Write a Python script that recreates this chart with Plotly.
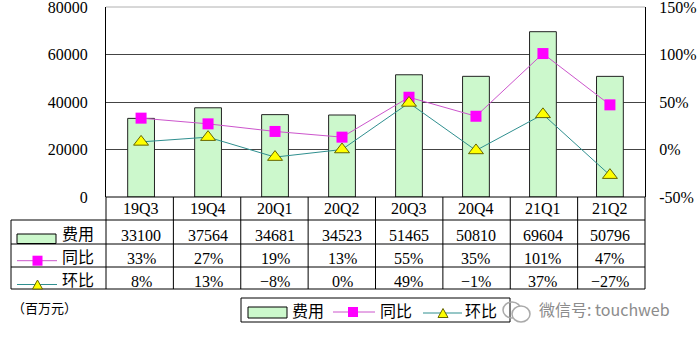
import plotly.graph_objects as go

# ---------------- data ----------------
categories = ["19Q3", "19Q4", "20Q1", "20Q2", "20Q3", "20Q4", "21Q1", "21Q2"]
cost = [33100, 37564, 34681, 34523, 51465, 50810, 69604, 50796]      # 费用 (百万元)
yoy = [33, 27, 19, 13, 55, 35, 101, 47]                              # 同比 %
qoq = [8, 13, -8, 0, 49, -1, 37, -27]                                # 环比 %
left_ticks = [0, 20000, 40000, 60000, 80000]
right_ticks = [-50, 0, 50, 100, 150]
row_names = ["费用", "同比", "环比"]

# ---------------- geometry helpers ----------------
W, H = 700, 339
def px(x):
    return x / W
def py(y):
    return 1 - y / H

X0, X1 = 106, 645      # plot area left/right (px)
Y0, Y1 = 7, 197        # plot area top/bottom (px)
FONT = "Liberation Serif, Noto Sans CJK SC, serif"
BAR_FILL = "#ccf8cc"
MAG = "#ff00ff"
MAG_LINE = "#cc55cc"
TEAL = "#2f8f8f"
YEL = "#ffff00"

fig = go.Figure()
fig.add_trace(go.Bar(
    x=categories, y=cost, name="费用", yaxis="y",
    marker=dict(color=BAR_FILL, line=dict(color="#222222", width=1)),
))
fig.add_trace(go.Scatter(
    x=categories, y=yoy, name="同比", yaxis="y2", mode="lines+markers",
    line=dict(color=MAG_LINE, width=1),
    marker=dict(symbol="square", size=11, color=MAG, line=dict(width=0)),
))
fig.add_trace(go.Scatter(
    x=categories, y=qoq, name="环比", yaxis="y2", mode="lines+markers",
    line=dict(color=TEAL, width=1),
    marker=dict(symbol="triangle-up", size=13, color=YEL,
                line=dict(color="#666600", width=1)),
))

shapes = []
annotations = []

def hline(x0, x1, y, color="black", width=1):
    shapes.append(dict(type="line", xref="paper", yref="paper",
                       x0=px(x0), x1=px(x1), y0=py(y), y1=py(y),
                       line=dict(color=color, width=width), layer="above"))

def vline(x, y0, y1, color="black", width=1):
    shapes.append(dict(type="line", xref="paper", yref="paper",
                       x0=px(x), x1=px(x), y0=py(y0), y1=py(y1),
                       line=dict(color=color, width=width), layer="above"))

def text(x, y, s, size=16, color="black", xanchor="center", xref="paper", family=FONT):
    annotations.append(dict(x=x if xref != "paper" else px(x), y=py(y),
                            xref=xref, yref="paper", text=s, showarrow=False,
                            xanchor=xanchor, yanchor="middle",
                            font=dict(family=family, size=size, color=color)))

# top border (light gray)
hline(X0, X1, Y0, color="#b0b0b0")

# ---------------- table ----------------
TL = 11
rows_y = [197, 220, 244, 267, 289]
hline(X0, X1, rows_y[0])
for yy in rows_y[1:]:
    hline(TL, X1, yy)
vline(TL, rows_y[1], rows_y[-1])
colw = (X1 - X0) / len(categories)
for k in range(len(categories) + 1):
    vline(X0 + k * colw, rows_y[0], rows_y[-1])

text_y = [208.5, 235.5, 258.5, 281.5]
for c in categories:
    text(c, text_y[0], c, xref="x")
for c, v in zip(categories, cost):
    text(c, text_y[1], str(v), xref="x")
for c, v in zip(categories, yoy):
    text(c, text_y[2], f"{v}%", xref="x")
for c, v in zip(categories, qoq):
    text(c, text_y[3], ("−" if v < 0 else "") + f"{abs(v)}%", xref="x")

# row labels with glyphs
def glyph_bar(x0, x1, y0, y1):
    shapes.append(dict(type="rect", xref="paper", yref="paper",
                       x0=px(x0), x1=px(x1), y0=py(y1), y1=py(y0),
                       fillcolor=BAR_FILL, line=dict(color="black", width=1), layer="above"))

def glyph_square(cx, cy, s, x0, x1):
    hline(x0, x1, cy, color=MAG_LINE)
    shapes.append(dict(type="rect", xref="paper", yref="paper",
                       x0=px(cx - s / 2), x1=px(cx + s / 2), y0=py(cy + s / 2), y1=py(cy - s / 2),
                       fillcolor=MAG, line=dict(width=0), layer="above"))

def glyph_tri(cx, cy, s, x0, x1):
    hline(x0, x1, cy, color=TEAL)
    h = s * 0.9
    path = (f"M {px(cx - s/2)} {py(cy + h/2)} L {px(cx + s/2)} {py(cy + h/2)} "
            f"L {px(cx)} {py(cy - h/2)} Z")
    shapes.append(dict(type="path", xref="paper", yref="paper", path=path,
                       fillcolor=YEL, line=dict(color="#666600", width=1), layer="above"))

glyph_bar(17, 56, 234, 243.5)
glyph_square(37.5, 260.7, 10, 17, 57)
glyph_tri(37.5, 284.5, 10, 17, 57)
for name, yy in zip(row_names, text_y[1:]):
    text(60, yy - 1, name, size=16, xanchor="left")

# unit label
text(10, 308, "（百万元）", size=13, xanchor="left")

# ---------------- legend box ----------------
shapes.append(dict(type="rect", xref="paper", yref="paper",
                   x0=px(241), x1=px(510), y0=py(322), y1=py(298),
                   fillcolor="white", line=dict(color="black", width=1), layer="above"))
glyph_bar(248, 287, 307, 318)
text(290, 311, row_names[0], xanchor="left")
glyph_square(353, 312, 10, 333, 375)
text(378, 311, row_names[1], xanchor="left")
glyph_tri(443, 313, 10, 423, 462)
text(463, 311, row_names[2], xanchor="left")

# ---------------- watermark ----------------
shapes.append(dict(type="circle", xref="paper", yref="paper",
                   x0=px(503), x1=px(521), y0=py(318), y1=py(302),
                   line=dict(color="#aaaaaa", width=1.5), layer="above"))
shapes.append(dict(type="circle", xref="paper", yref="paper",
                   x0=px(512), x1=px(530), y0=py(322), y1=py(306),
                   fillcolor="white", line=dict(color="#aaaaaa", width=1.5), layer="above"))
text(537, 309, "微信号: touchweb", size=16, color="#8c8c8c", xanchor="left",
     family="Noto Sans CJK SC, sans-serif")

fig.update_layout(
    width=W, height=H,
    margin=dict(l=0, r=0, t=0, b=0),
    paper_bgcolor="white", plot_bgcolor="white",
    showlegend=False,
    bargap=0.6,
    font=dict(family=FONT, size=16, color="black"),
    xaxis=dict(domain=[px(X0), px(X1)], type="category", showticklabels=False,
               showgrid=False, zeroline=False, showline=False, ticks="",
               automargin=False),
    yaxis=dict(domain=[py(Y1), py(Y0)], range=[0, 80000], tickvals=left_ticks,
               ticktext=[str(t) for t in left_ticks],
               showgrid=True, gridcolor="#444444", gridwidth=1, zeroline=False,
               showline=True, linecolor="black", linewidth=1, ticks="",
               ticklabelstandoff=14, ticklabeloverflow="allow",
               tickfont=dict(family=FONT, size=16),
               automargin=False),
    yaxis2=dict(overlaying="y", side="right", range=[-50, 150], tickvals=right_ticks,
                ticktext=[f"{t}%" for t in right_ticks],
                showgrid=False, zeroline=False, showline=True, linecolor="black",
                linewidth=1, ticks="", ticklabelstandoff=10, ticklabeloverflow="allow",
                tickfont=dict(family=FONT, size=16), automargin=False),
    shapes=shapes,
    annotations=annotations,
)

fig.write_html("out.html")
